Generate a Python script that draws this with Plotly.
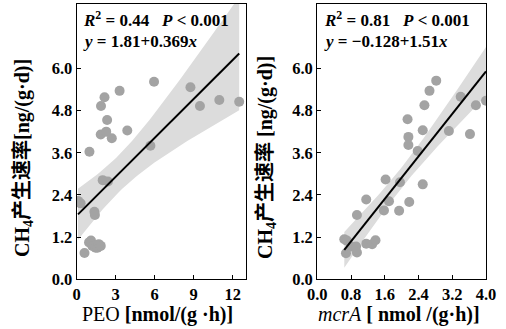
import numpy as np
import plotly.graph_objects as go

# ---- data ----
peo_x = [0.1, 0.3, 0.6, 0.95, 1.1, 1.2, 1.45, 1.6, 1.7, 1.85, 0.98, 1.36, 1.4,
         1.85, 1.87, 2.0, 2.14, 2.27, 2.34, 2.4, 2.7, 3.3, 3.89, 5.67, 5.95,
         8.75, 9.48, 10.97, 12.5]
peo_y = [2.23, 2.16, 0.75, 1.05, 1.1, 0.95, 0.9, 0.9, 1.0, 0.95, 3.63, 1.92, 1.83,
         4.12, 4.93, 2.82, 5.18, 4.20, 4.53, 2.78, 4.01, 5.36, 4.23, 3.80, 5.62,
         5.46, 4.93, 5.10, 5.05]

mcra_x = [0.64, 0.70, 0.68, 0.80, 0.92, 0.94, 0.94, 1.16, 1.16, 1.30, 1.38, 1.58,
          1.62, 1.70, 1.94, 1.96, 2.14, 2.16, 2.16, 2.18, 2.38, 2.50, 2.50, 2.54,
          2.66, 2.82, 3.12, 3.40, 3.62, 3.76, 4.0]
mcra_y = [1.14, 1.10, 0.74, 0.93, 0.93, 0.76, 1.83, 2.27, 1.01, 1.00, 1.11, 1.96,
          2.84, 2.22, 1.95, 2.76, 4.55, 4.05, 3.82, 2.20, 3.65, 4.24, 2.70, 4.95,
          5.36, 5.65, 4.22, 5.19, 4.13, 4.95, 5.08]

peo_fit = (1.81, 0.369)      # intercept, slope
mcra_fit = (-0.128, 1.51)

y_ticks = [0.0, 1.2, 2.4, 3.6, 4.8, 6.0]
peo_ticks = [0, 3, 6, 9, 12]
mcra_ticks = [0.0, 0.8, 1.6, 2.4, 3.2, 4.0]

T95 = 2.05

W, H = 506, 329
FONT = "Liberation Serif, Times New Roman, Noto Sans CJK SC"
PT_COLOR = "#a3a3a3"
BAND_COLOR = "#dcdcdc"


def band(xs, ys, fit, n_pts=60):
    xs = np.asarray(xs, float)
    ys = np.asarray(ys, float)
    a, b = fit
    n = len(xs)
    res = ys - (a + b * xs)
    s = np.sqrt(np.sum(res ** 2) / (n - 2))
    xbar = xs.mean()
    sxx = np.sum((xs - xbar) ** 2)
    gx = np.linspace(xs.min(), xs.max(), n_pts)
    gy = a + b * gx
    hw = T95 * s * np.sqrt(1.0 / n + (gx - xbar) ** 2 / sxx)
    return gx, gy, gy - hw, gy + hw


fig = go.Figure()

for xs, ys, fit, xa, ya in [(peo_x, peo_y, peo_fit, "x", "y"),
                            (mcra_x, mcra_y, mcra_fit, "x2", "y2")]:
    gx, gy, lo, hi = band(xs, ys, fit)
    fig.add_trace(go.Scatter(x=np.concatenate([gx, gx[::-1]]),
                             y=np.concatenate([hi, lo[::-1]]),
                             fill="toself", fillcolor=BAND_COLOR,
                             line=dict(width=0), mode="lines",
                             hoverinfo="skip", xaxis=xa, yaxis=ya,
                             showlegend=False))
    fig.add_trace(go.Scatter(x=xs, y=ys, mode="markers",
                             marker=dict(size=10, color=PT_COLOR),
                             xaxis=xa, yaxis=ya, showlegend=False))
    fig.add_trace(go.Scatter(x=gx, y=gy, mode="lines",
                             line=dict(color="black", width=2),
                             xaxis=xa, yaxis=ya, showlegend=False))

ydom = [1 - 279.3 / H, 1 - 4 / H]
axis_common = dict(showline=True, linecolor="black", linewidth=1.3, mirror=True,
                   ticks="inside", ticklen=4, tickwidth=1.2, tickcolor="black",
                   showgrid=False, zeroline=False, automargin=False,
                   tickfont=dict(family=FONT, size=16.5, color="black", weight="bold"))

fig.update_layout(
    width=W, height=H, margin=dict(l=0, r=0, t=0, b=0),
    paper_bgcolor="white", plot_bgcolor="white",
    xaxis=dict(domain=[76.7 / W, 245.7 / W], range=[0, 13.0],
               tickvals=peo_ticks, ticktext=[str(v) for v in peo_ticks], **axis_common),
    yaxis=dict(domain=ydom, range=[0, 7.83], tickvals=y_ticks,
               ticktext=[f"{v:.1f}" for v in y_ticks], **axis_common),
    xaxis2=dict(domain=[317.3 / W, 486 / W], range=[0, 4.0], anchor="y2",
                tickvals=mcra_ticks, ticktext=[f"{v:.1f}" for v in mcra_ticks], **axis_common),
    yaxis2=dict(domain=ydom, range=[0, 7.83], anchor="x2", tickvals=y_ticks,
                ticktext=[f"{v:.1f}" for v in y_ticks], **axis_common),
)

def ann(text, x, y, size, angle=0, xanchor="center", bold=True):
    fig.add_annotation(text=text, x=x / W, y=1 - y / H, xref="paper", yref="paper",
                       showarrow=False, textangle=angle, xanchor=xanchor, yanchor="middle",
                       font=dict(family=FONT, size=size, color="black",
                                 weight="bold" if bold else "normal"))

# axis titles
ann("PEO <b>[nmol/(g ·h)]</b>", 157, 314, 20, bold=False)
ann("<i>mcrA</i> <b>[ nmol /(g·h)]</b>", 399, 314, 20, bold=False)
ann("CH<sub>4</sub>产生速率[ng/(g·d)]", 23, 158, 20, angle=-90)
ann("CH<sub>4</sub>产生速率 [ng/(g·d)]", 266, 158, 20, angle=-90)

# stats text
ann("<i>R</i><sup>2</sup> = 0.44   <i>P</i> < 0.001", 81, 19.5, 17, xanchor="left")
ann("<i>y</i> = 1.81+0.369<i>x</i>", 81, 41, 17, xanchor="left")
ann("<i>R</i><sup>2</sup> = 0.81   <i>P</i> < 0.001", 322, 19.5, 17, xanchor="left")
ann("<i>y</i> = −0.128+1.51<i>x</i>", 322, 41, 17, xanchor="left")

fig.write_html("out.html", config={"displayModeBar": False},
               post_script="document.body.style.margin='0';document.body.style.overflow='hidden';")
